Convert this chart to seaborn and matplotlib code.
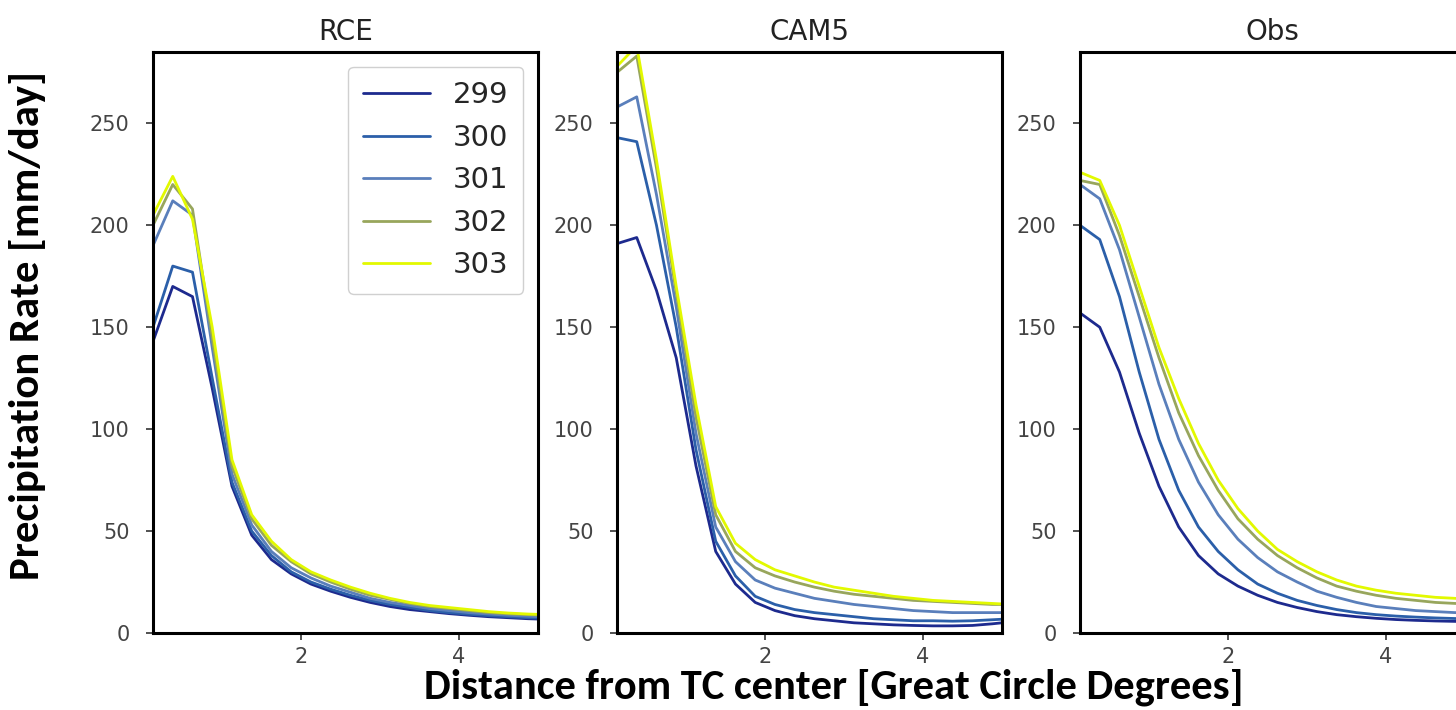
import matplotlib
matplotlib.use("Agg")
import numpy as np
import pandas as pd
import seaborn as sns
import matplotlib.pyplot as plt
from matplotlib import font_manager

# ---------------- data ----------------
distance = [0.125, 0.375, 0.625, 0.875, 1.125, 1.375, 1.625, 1.875, 2.125, 2.375,
            2.625, 2.875, 3.125, 3.375, 3.625, 3.875, 4.125, 4.375, 4.625, 4.875, 5.125]
sst_labels = ["299", "300", "301", "302", "303"]
panel_titles = ["RCE", "CAM5", "Obs"]

rce_299 = [143, 170, 165, 120, 72, 48, 36, 29, 24, 20.5, 17.5, 15, 13, 11.5, 10.5, 9.5, 8.7, 8, 7.5, 7, 6.7]
rce_300 = [150, 180, 177, 125, 74, 50, 38, 30, 25, 21.5, 18.5, 16, 14, 12.5, 11, 10, 9.2, 8.5, 8, 7.5, 7.2]
rce_301 = [190, 212, 205, 140, 78, 53, 40, 32, 27, 23, 20, 17, 15, 13.5, 12, 11, 10, 9.3, 8.7, 8.2, 7.8]
rce_302 = [200, 220, 208, 145, 82, 56, 43, 35, 29, 25, 21.5, 18.5, 16.5, 14.5, 13, 12, 11, 10, 9.4, 9, 8.6]
rce_303 = [205, 224, 203, 150, 85, 58, 45, 36, 30, 26, 22.5, 19.5, 17, 15, 13.5, 12.5, 11.5, 10.5, 9.8, 9.3, 9]

cam_299 = [191, 194, 168, 135, 82, 40, 24, 15, 11, 8.5, 7, 6, 5, 4.5, 4, 3.7, 3.5, 3.5, 3.7, 4.5, 5.5]
cam_300 = [243, 241, 200, 150, 90, 45, 28, 18, 14, 11.5, 10, 9, 8, 7, 6.5, 6, 6, 5.8, 6, 6.5, 7]
cam_301 = [258, 263, 215, 160, 98, 52, 35, 26, 22, 19.5, 17, 15.5, 14, 13, 12, 11, 10.5, 10, 10, 10, 10]
cam_302 = [275, 283, 228, 167, 106, 58, 40, 32, 28, 25, 22.5, 20.5, 19, 18, 17, 16, 15.5, 15, 14.5, 14, 14]
cam_303 = [278, 288, 232, 170, 112, 62, 44, 36, 31, 28, 25, 22.5, 21, 19.5, 18, 17, 16, 15.5, 15, 14.5, 14]

obs_299 = [157, 150, 128, 98, 72, 52, 38, 29, 23, 18.5, 15, 12.5, 10.5, 9, 8, 7.2, 6.6, 6.2, 5.9, 5.7, 5.5]
obs_300 = [200, 193, 165, 128, 95, 70, 52, 40, 31, 24, 19.5, 16, 13.5, 11.5, 10, 9, 8.3, 7.8, 7.4, 7.1, 7]
obs_301 = [220, 213, 188, 155, 122, 95, 74, 58, 46, 37, 30, 25, 20.5, 17.5, 15, 13, 12, 11, 10.5, 10, 10]
obs_302 = [222, 220, 195, 165, 135, 108, 87, 70, 56, 46, 38, 32, 27, 23, 20.5, 18.5, 17, 16, 15, 14.5, 14]
obs_303 = [226, 222, 200, 170, 140, 115, 93, 75, 61, 50, 41, 35, 30, 26, 23, 21, 19.5, 18.5, 17.5, 17, 16.5]

x_ticks = [2, 4]
y_ticks = [0, 50, 100, 150, 200, 250]

panel_series = {
    "RCE": [rce_299, rce_300, rce_301, rce_302, rce_303],
    "CAM5": [cam_299, cam_300, cam_301, cam_302, cam_303],
    "Obs": [obs_299, obs_300, obs_301, obs_302, obs_303],
}

rows = []
for panel, series in panel_series.items():
    for sst, vals in zip(sst_labels, series):
        for d, v in zip(distance, vals):
            rows.append({"panel": panel, "SST": sst, "distance": d, "rate": v})
df = pd.DataFrame(rows)

# ---------------- style ----------------
line_colors = ["#1d2a8e", "#2b5fa9", "#5a7fbb", "#98a65c", "#e2f900"]

sns.set_style("ticks")
plt.rcParams["font.family"] = ["DejaVu Sans"]

available = {f.name for f in font_manager.fontManager.ttflist}
label_family = "DejaVu Sans"
for cand in ["Carlito", "Liberation Sans Narrow", "Lato", "Open Sans"]:
    if cand in available:
        label_family = cand
        break

fig = plt.figure(figsize=(14.56, 7.10), dpi=100)
fig.patch.set_facecolor("white")

W, H = 1456.0, 710.0
ax_bottom = 1 - 633 / H
ax_height = (633 - 52) / H
ax_width = 385 / W
lefts = [153 / W, 617 / W, 1080 / W]

for i, title in enumerate(panel_titles):
    ax = fig.add_axes([lefts[i], ax_bottom, ax_width, ax_height])
    sub = df[df["panel"] == title]
    sns.lineplot(data=sub, x="distance", y="rate", hue="SST", hue_order=sst_labels,
                 palette=line_colors, linewidth=2.0, errorbar=None, ax=ax,
                 legend=(i == 0))
    ax.set_xlim(0.125, 5.0)
    ax.set_ylim(0, 285)
    ax.set_xticks(x_ticks)
    ax.set_yticks(y_ticks)
    ax.set_xlabel("")
    ax.set_ylabel("")
    ax.set_title(title, fontsize=20, pad=9, color="#222222")
    for sp in ax.spines.values():
        sp.set_visible(True)
        sp.set_linewidth(2.2)
        sp.set_color("black")
    ax.tick_params(axis="both", length=5, width=1.2, color="#333333",
                   labelsize=15, labelcolor="#444444")
    ax.tick_params(axis="y", pad=12)
    ax.tick_params(axis="x", pad=5)
    if i == 0:
        handles, labels = ax.get_legend_handles_labels()
        for h in handles:
            h.set_linewidth(2.0)
        ax.legend(handles, labels, loc="upper right", fontsize=21, frameon=True,
                  handlelength=2.3, labelspacing=0.5, borderpad=0.5,
                  edgecolor="#d0d0d0", framealpha=1.0)

xl = fig.text(834 / W, 1 - 698 / H, "Distance from TC center [Great Circle Degrees]",
              ha="center", va="baseline", fontsize=27, fontweight="bold",
              family=[label_family, "DejaVu Sans"], color="black")
yl = fig.text(28 / W, 1 - 325 / H, "Precipitation Rate [mm/day]",
              ha="center", va="center", rotation=90, fontsize=27, fontweight="bold",
              family=[label_family, "DejaVu Sans"], color="black")

renderer = fig.canvas.get_renderer()
for t, target, horiz in [(xl, 818.0, True), (yl, 510.0, False)]:
    for _ in range(3):
        ext = t.get_window_extent(renderer)
        size = ext.width if horiz else ext.height
        if size > 0:
            t.set_fontsize(t.get_fontsize() * target / size)

fig.savefig("out.png", dpi=100, facecolor="white")
